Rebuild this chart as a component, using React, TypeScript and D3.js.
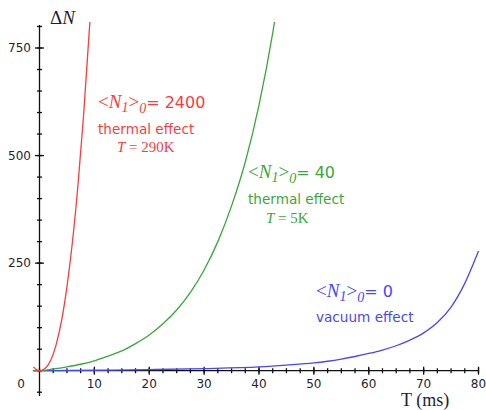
import React from 'react';
import * as d3 from 'd3';

// values (T in ms, ΔN)
const redT = [-1.1, -0.5, 0, 1, 2, 3, 4, 5, 6, 7, 8, 9, 9.4];
const redN = [9, 2, 0, 5, 23, 59, 115, 195, 299, 430, 588, 777, 850];
const greenT = [-1.1, 0, 2.5, 5, 7.5, 10, 12.5, 15, 17.5, 20, 22.5, 25, 27.5, 30, 32.5, 35, 37.5, 40, 42.5, 43.5];
const greenN = [0, 0, 4, 9, 15, 23, 34, 46, 63, 83, 109, 141, 182, 234, 300, 383, 485, 617, 785, 865];
const blueT = [-1.1, 0, 10, 20, 30, 40, 45, 50, 52.5, 55, 57.5, 60, 62.5, 65, 67.5, 70, 72.5, 75, 77.5, 80];
const blueN = [0, 0, 1, 2.5, 5, 9, 13, 18, 22, 27, 33, 40, 48, 58, 71, 88, 112, 148, 203, 278];

const xTicks = [10, 20, 30, 40, 50, 60, 70, 80];
const yTicks = [250, 500, 750];
const xMinor = d3.range(0, 80.01, 2.5);
const yMinor = d3.range(-50, 800.01, 50);

const RED = '#ff3a3a';
const GREEN = '#38a838';
const BLUE = '#4646ff';
const serif = '"Liberation Serif", serif';
const sans = '"DejaVu Sans", sans-serif';

const x = d3.scaleLinear().domain([0, 80]).range([39.5, 478.5]);
const y = d3.scaleLinear().domain([0, 750]).range([370.7, 48]);

const line = (ts: number[], ns: number[]) =>
  d3.line<number>()
    .x((d, i) => x(ts[i]))
    .y((d) => y(d))
    .curve(d3.curveMonotoneX)(ns) as string;

const Label = (props: { x: number; y: number; color: string; val: string; big: number; small: number; num: number }) => {
  const { big, small, num } = props;
  return (
    <text x={props.x} y={props.y} fill={props.color}>
      <tspan fontFamily={serif} fontSize={big}>&lt;</tspan>
      <tspan fontFamily={serif} fontSize={big} fontStyle="italic">N</tspan>
      <tspan fontFamily={serif} fontSize={small} fontStyle="italic" dy={4}>1</tspan>
      <tspan fontFamily={serif} fontSize={big} dy={-4}>&gt;</tspan>
      <tspan fontFamily={serif} fontSize={small} fontStyle="italic" dy={5}>0</tspan>
      <tspan fontFamily={sans} fontSize={num} dy={-5}>= {props.val}</tspan>
    </text>
  );
};

const App = () => {
  const y0 = y(0);
  return (
    <svg width={486} height={410} style={{ position: 'absolute', left: 0, top: 0, background: '#fff' }}>
      <defs>
        <clipPath id="plotclip">
          <rect x={0} y={22} width={486} height={388} />
        </clipPath>
      </defs>

      {/* axes */}
      <g stroke="#111" strokeWidth={1.3}>
        <line x1={33} x2={479} y1={y0} y2={y0} />
        <line x1={x(0)} x2={x(0)} y1={25} y2={396} />
        {xMinor.map((t) => (
          <line key={'xm' + t} x1={x(t)} x2={x(t)} y1={y0 - 2.5} y2={y0 + 2.5} />
        ))}
        {xTicks.map((t) => (
          <line key={'xM' + t} x1={x(t)} x2={x(t)} y1={y0 - 4} y2={y0 + 4} />
        ))}
        {yMinor.map((v) => (
          <line key={'ym' + v} x1={x(0) - 2.5} x2={x(0) + 2.5} y1={y(v)} y2={y(v)} />
        ))}
        {yTicks.map((v) => (
          <line key={'yM' + v} x1={x(0) - 4.5} x2={x(0) + 4.5} y1={y(v)} y2={y(v)} />
        ))}
      </g>

      <g fontFamily={sans} fontSize={12} fill="#1e1e30">
        {xTicks.map((t) => (
          <text key={'xl' + t} x={x(t)} y={388} textAnchor="middle">{t}</text>
        ))}
        <text x={21} y={388} textAnchor="middle">0</text>
        {yTicks.map((v) => (
          <text key={'yl' + v} x={31} y={y(v) + 4.3} textAnchor="end">{v}</text>
        ))}
      </g>

      {/* curves */}
      <g clipPath="url(#plotclip)" fill="none" strokeWidth={1.3}>
        <path d={line(blueT, blueN)} stroke={BLUE} />
        <path d={line(greenT, greenN)} stroke={GREEN} />
        <path d={line(redT, redN)} stroke={RED} />
      </g>

      {/* axis titles */}
      <text x={50} y={24} fontFamily={serif} fontSize={19} fill="#1e1e30">
        <tspan>Δ</tspan>
        <tspan fontStyle="italic">N</tspan>
      </text>
      <text x={401} y={406} fontFamily={serif} fontSize={18} fill="#1e1e30">T (ms)</text>

      {/* annotations */}
      <Label x={98} y={108} color={RED} val="2400" big={19} small={14} num={16} />
      <text x={98} y={134} fontFamily={sans} fontSize={13.6} fill={RED}>thermal effect</text>
      <text x={117} y={152} fontFamily={serif} fontSize={15} fill={RED}>
        <tspan fontStyle="italic">T</tspan> = 290K
      </text>

      <Label x={248} y={178} color={GREEN} val="40" big={19} small={14} num={16} />
      <text x={248} y={204} fontFamily={sans} fontSize={13.6} fill={GREEN}>thermal effect</text>
      <text x={266} y={223} fontFamily={serif} fontSize={15} fill={GREEN}>
        <tspan fontStyle="italic">T</tspan> = 5K
      </text>

      <Label x={316} y={297} color={BLUE} val="0" big={19} small={14} num={16} />
      <text x={316} y={322} fontFamily={sans} fontSize={13.6} fill={BLUE}>vacuum effect</text>
    </svg>
  );
};

export default App;
